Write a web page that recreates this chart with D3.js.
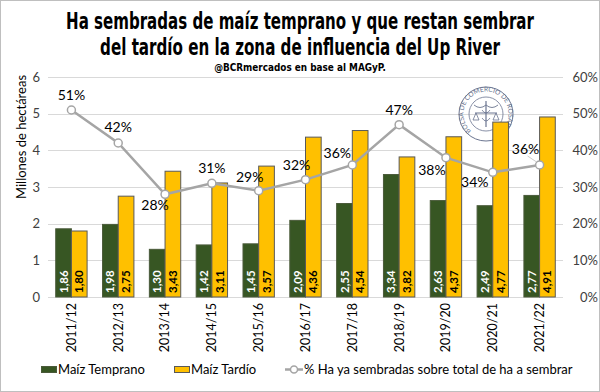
<!DOCTYPE html>
<html><head><meta charset="utf-8">
<script src="https://cdn.jsdelivr.net/npm/d3@7"></script>
<style>body{margin:0;background:#fff}svg{display:block}</style>
</head><body><svg id="c" width="600" height="392"></svg>
<script>
const categories = ["2011/12","2012/13","2013/14","2014/15","2015/16","2016/17","2017/18","2018/19","2019/20","2020/21","2021/22"];
const temprano = [1.86,1.98,1.30,1.42,1.45,2.09,2.55,3.34,2.63,2.49,2.77];
const tardio = [1.80,2.75,3.43,3.11,3.57,4.36,4.54,3.82,4.37,4.77,4.91];
const pct = [0.51,0.42,0.28,0.31,0.29,0.32,0.36,0.47,0.38,0.34,0.36];
const leftTicks = [0,1,2,3,4,5,6];
const rightTicks = [0,0.1,0.2,0.3,0.4,0.5,0.6];
const titleLines = ["Ha sembradas de maíz temprano y que restan sembrar","del tardío en la zona de influencia del Up River"];
const subtitle = "@BCRmercados  en base al MAGyP.";
// label placement relative to point: [dx, dy]
const pctLabelOffset = [[0,-15],[0,-16],[-10,11],[0,-15],[-9,-14],[-9,-15],[-15,-12],[0,-15],[-14,12],[-18,10],[-14,-16]];

const FONT = "Lato, 'Open Sans', sans-serif";
const svg = d3.select("#c");
const W = 600, H = 392;
const m = {l:48, r:37, t:77, b:95};
const x = d3.scaleBand().domain(categories).range([m.l, W-m.r]).paddingInner(0.33).paddingOuter(0.165);
const x2 = d3.scaleBand().domain(["t","d"]).range([0, x.bandwidth()]);
const y = d3.scaleLinear().domain([0,6]).range([H-m.b, m.t]);
const y2 = d3.scaleLinear().domain([0,0.6]).range([H-m.b, m.t]);
const cx = c => x(c) + x.bandwidth()/2;

svg.append("rect").attr("x",0.5).attr("y",0.5).attr("width",W-1).attr("height",H-1).attr("fill","#fff").attr("stroke","#bfbfbf");

// title (scaled horizontally to mimic condensed heavy font)
const tf = "'Liberation Sans Narrow','DejaVu Sans Condensed',Arial,sans-serif";
function fitText(txt, yb, size, targetW){
  const gT = svg.append("g");
  const t = gT.append("text").attr("x",0).attr("y",0).attr("text-anchor","middle").attr("font-family",tf)
    .attr("font-weight","bold").attr("font-size",size).attr("fill","#000").text(txt);
  const w = t.node().getComputedTextLength();
  gT.attr("transform",`translate(300,${yb}) scale(${targetW/w},1)`);
}
fitText(titleLines[0], 29, 23, 468);
fitText(titleLines[1], 55, 23, 400);
fitText(subtitle, 71, 11, 172);

// grid
svg.append("g").selectAll("line").data(leftTicks).join("line")
  .attr("x1",m.l).attr("x2",W-m.r).attr("y1",d=>Math.round(y(d))+0.5).attr("y2",d=>Math.round(y(d))+0.5)
  .attr("stroke","#d9d9d9").attr("stroke-width",1);

// left axis
const ya = svg.append("g").attr("transform",`translate(${m.l-8},0)`)
  .call(d3.axisLeft(y).tickValues(leftTicks).tickSize(0).tickPadding(0).tickFormat(d3.format("d")));
ya.select(".domain").remove();
ya.selectAll("text").attr("font-family",FONT).attr("font-size",13).attr("fill","#404040");
const ya2 = svg.append("g").attr("transform",`translate(${W-2},0)`)
  .call(d3.axisLeft(y2).tickValues(rightTicks).tickSize(0).tickPadding(0).tickFormat(d3.format(".0%")));
ya2.select(".domain").remove();
ya2.selectAll("text").attr("font-family",FONT).attr("font-size",13).attr("fill","#404040");

svg.append("text").attr("transform",`translate(21,${(y(0)+y(6))/2-50}) rotate(-90)`).attr("text-anchor","middle")
  .attr("dy","0.35em").attr("font-family",FONT).attr("font-size",13).attr("fill","#000").text("Millones de hectáreas");

// logo
const lc = "#6b7590";
const lg = svg.append("g").attr("transform","translate(486,114)");
lg.append("circle").attr("r",27).attr("fill","none").attr("stroke",lc).attr("stroke-width",1);
lg.append("circle").attr("r",17).attr("fill","none").attr("stroke",lc).attr("stroke-width",0.8);
lg.append("path").attr("id","lp").attr("d","M -11.2 19.5 A 22.5 22.5 0 1 1 11.2 19.5").attr("fill","none");
lg.append("text").attr("font-family",FONT).attr("font-size",6.6).attr("fill",lc)
  .append("textPath").attr("href","#lp").attr("startOffset","50%").attr("text-anchor","middle").text("BOLSA DE COMERCIO DE ROSARIO");
lg.append("line").attr("x1",0).attr("x2",0).attr("y1",-13).attr("y2",13).attr("stroke",lc).attr("stroke-width",1.2);
lg.append("line").attr("x1",-11).attr("x2",11).attr("y1",-1).attr("y2",-1).attr("stroke",lc);
lg.append("path").attr("d","M-10 -1 L-13 6 L-7 6 Z M10 -1 L7 6 L13 6 Z").attr("fill","none").attr("stroke",lc).attr("stroke-width",0.8);
lg.append("path").attr("d","M-12 -9 Q-6 -4 0 -9 Q6 -4 12 -9").attr("fill","none").attr("stroke",lc).attr("stroke-width",0.9);
lg.append("path").attr("d","M-4 -4 Q0 2 4 -4 M-4 4 Q0 10 4 4").attr("fill","none").attr("stroke",lc).attr("stroke-width",0.8);

// bars
const g = svg.append("g");
categories.forEach((c,i)=>{
  const gg = g.append("g").attr("transform",`translate(${x(c)},0)`);
  const vals = [{k:"t",v:temprano[i]},{k:"d",v:tardio[i]}];
  gg.selectAll("rect").data(vals).join("rect")
    .attr("x",d=>x2(d.k)).attr("width",x2.bandwidth()).attr("y",d=>y(d.v)).attr("height",d=>y(0)-y(d.v))
    .attr("fill",d=>d.k==="t"?"#375623":"#ffc000").attr("stroke",d=>d.k==="t"?"#4a5a3a":"#595959").attr("stroke-width",1);
  gg.selectAll("text").data(vals).join("text")
    .attr("transform",d=>`translate(${x2(d.k)+x2.bandwidth()/2},${y(0)-4}) rotate(-90)`)
    .attr("dy","0.35em").attr("font-family",FONT).attr("font-weight","bold").attr("font-size",11.5)
    .attr("fill",d=>d.k==="t"?"#fff":"#000").text(d=>d3.format(".2f")(d.v).replace(".",","));
});

// x labels
svg.append("g").selectAll("text").data(categories).join("text")
  .attr("transform",d=>`translate(${cx(d)},${y(0)+6}) rotate(-90)`).attr("text-anchor","end").attr("dy","0.35em")
  .attr("font-family",FONT).attr("font-size",12.5).attr("fill","#000").text(d=>d);

// line
const line = d3.line().x((d,i)=>cx(categories[i])).y(d=>y2(d));
svg.append("path").datum(pct).attr("d",line).attr("fill","none").attr("stroke","#a5a5a5").attr("stroke-width",2.5);
const li = pct.length-1;
svg.append("line").attr("x1",cx(categories[li])-12).attr("y1",y2(pct[li])-9).attr("x2",cx(categories[li])-3).attr("y2",y2(pct[li])-3)
  .attr("stroke","#bfbfbf").attr("stroke-width",0.8);
svg.append("g").selectAll("circle").data(pct).join("circle")
  .attr("cx",(d,i)=>cx(categories[i])).attr("cy",d=>y2(d)).attr("r",4)
  .attr("fill","#fff").attr("stroke","#a5a5a5").attr("stroke-width",1.5);
svg.append("g").selectAll("text").data(pct).join("text")
  .attr("x",(d,i)=>cx(categories[i])+pctLabelOffset[i][0]).attr("y",(d,i)=>y2(d)+pctLabelOffset[i][1]).attr("dy","0.35em")
  .attr("text-anchor","middle").attr("font-family",FONT).attr("font-size",14).attr("fill","#000")
  .text(d=>d3.format(".0%")(d));

// legend
const leg = svg.append("g").attr("font-family",FONT).attr("font-size",13).attr("fill","#000");
leg.append("rect").attr("x",41.5).attr("y",366.5).attr("width",15).attr("height",6).attr("fill","#375623").attr("stroke","#4a5a3a");
leg.append("text").attr("x",58).attr("y",369.5).attr("dy","0.35em").text("Maíz Temprano");
leg.append("rect").attr("x",174.5).attr("y",366.5).attr("width",15).attr("height",6).attr("fill","#ffc000").attr("stroke","#595959");
leg.append("text").attr("x",191).attr("y",369.5).attr("dy","0.35em").text("Maíz Tardío");
leg.append("line").attr("x1",285).attr("x2",303).attr("y1",369.5).attr("y2",369.5).attr("stroke","#a5a5a5").attr("stroke-width",2.5);
leg.append("circle").attr("cx",294).attr("cy",369.5).attr("r",3.5).attr("fill","#fff").attr("stroke","#a5a5a5").attr("stroke-width",1.5);
leg.append("text").attr("x",304).attr("y",369.5).attr("dy","0.35em").text("% Ha ya sembradas sobre total de ha a sembrar");
</script></body></html>
